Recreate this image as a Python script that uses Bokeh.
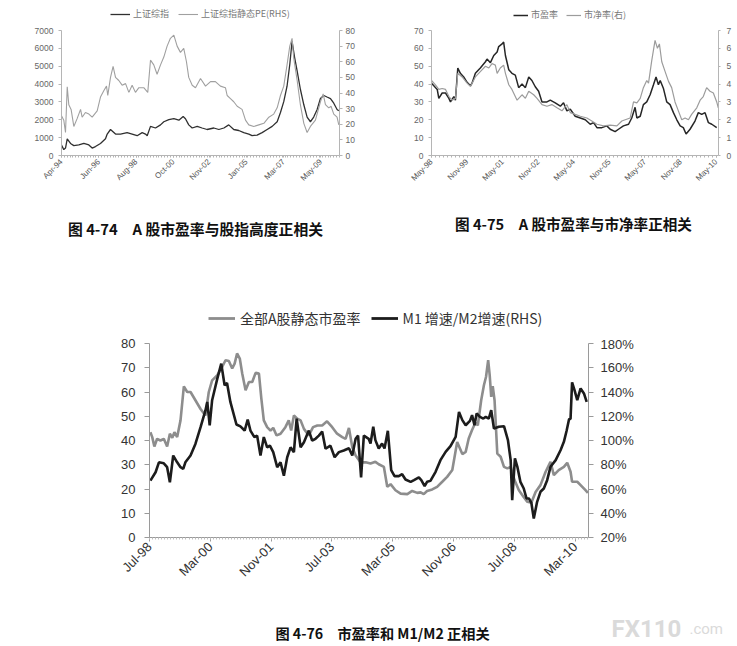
import math
import pandas as pd
from bokeh.plotting import figure
from bokeh.models import (Range1d, LinearAxis, FixedTicker, DatetimeTickFormatter,
                          Legend, LegendItem, Label, PrintfTickFormatter)
from bokeh.layouts import column, row
from bokeh.embed import file_html
from bokeh.resources import INLINE

# ---------------- data ----------------
# Fig 4-74: months after Apr-1994
c1_base = "1994-04-01"
c1_idx_m = [0, 1.6, 2.8, 4.0, 6.3, 8.6, 12.1, 15.6, 19.1, 21.4, 23.7, 27.2, 30.7, 31.9, 34.2, 37.7,
            41.2, 45.8, 49.3, 52.8, 56.3, 58.6, 59.8, 62.1, 65.6, 69.1, 71.4, 74.9, 78.4, 81.9, 84.9,
            86.5, 88.8, 91.2, 94.7, 98.1, 101.6, 106.3, 109.8, 113.3, 116.7, 120.2, 123.7, 127.2,
            130.7, 133.0, 136.5, 140.0, 143.5, 147.0, 150.5, 152.8, 155.1, 157.4, 159.3, 160.9,
            162.6, 164.4, 166.7, 169.1, 171.4, 173.7, 176.0, 178.4, 180.7, 183.0, 185.3, 187.7,
            190.0, 192.3, 193.5]
c1_index = [590, 330, 416, 936, 676, 555, 590, 676, 590, 416, 500, 676, 936, 1200, 1456, 1200,
            1200, 1282, 1200, 1109, 1282, 1200, 1109, 1630, 1540, 1716, 1890, 2010, 2060, 1975, 2180,
            2060, 1716, 1540, 1630, 1540, 1456, 1540, 1456, 1540, 1716, 1456, 1400, 1282,
            1200, 1109, 1144, 1282, 1456, 1630, 1890, 2409, 3015, 3880, 5095, 6395,
            5530, 4750, 3710, 2840, 2150, 1890, 2150, 2580, 3190, 3360, 3275, 3190,
            2930, 2580, 2500]
c1_pe_m = [0, 1.6, 2.8, 4.0, 5.1, 6.7, 8.6, 10.9, 13.3, 14.4, 16.7, 19.1, 21.4, 24.9, 27.2,
           29.5, 31.4, 32.3, 34.2, 36.0, 37.7, 40.0, 42.3, 44.7, 47.0, 49.3, 51.6, 54.0, 57.4, 60.2,
           62.1, 64.4, 66.7, 69.1, 71.4, 73.7, 76.0, 78.4, 80.7, 83.0, 85.3, 87.2, 88.8, 91.2, 93.5,
           97.0, 100.5, 104.0, 107.4, 110.9, 114.4, 115.6, 117.9, 120.2, 122.6, 126.0, 128.4, 130.7,
           134.2, 137.7, 141.2, 144.7, 148.1, 150.5, 152.8, 155.1, 157.4, 159.3, 160.9, 162.1,
           164.4, 166.7, 169.1, 171.4, 173.7, 177.2, 180.7, 182.6, 184.2, 186.5, 188.1, 190.0,
           192.3, 193.5]
c1_pe = [25.5, 22.6, 14.7, 44, 32.5, 29.5, 18.6, 23.6, 29.5, 24.5, 27.5, 26.5, 24.5, 28.5, 37.4,
         41.4, 44.4, 38.4, 50, 57, 50, 48, 45, 46, 40.4, 45, 40.4, 43.4, 43.4, 40.4,
         61, 58, 52, 58, 63, 70, 75, 77, 70, 66, 68.5, 60, 50, 45, 43.4,
         49.3, 44.4, 47.3, 47.3, 44.4, 43.4, 38.4, 36.4, 34.4, 31.5, 29.5, 22.6, 19.6,
         18.6, 19.6, 20.6, 24.5, 26.5, 30.5, 38.4, 44.4, 58, 70, 75, 62,
         48.3, 32.5, 20.6, 14.7, 18.6, 22.6, 34.4, 39.4, 32.5, 30.5, 31.5, 26.5,
         24.5, 19.6]
c1_ticks = ["1994-04-01", "1996-06-01", "1998-08-01", "2000-10-01", "2002-11-01",
            "2005-01-01", "2007-03-01", "2009-05-01"]
c1_left_ticks = [0, 1000, 2000, 3000, 4000, 5000, 6000, 7000]
c1_right_ticks = [0, 10, 20, 30, 40, 50, 60, 70, 80]
c1_names = ["上证综指", "上证综指静态PE(RHS)"]
c1_caption = "图 4-74　A 股市盈率与股指高度正相关"

# Fig 4-75: months after May-1998
c2_base = "1998-05-01"
c2_pe_m = [0, 2.9, 3.7, 5.4, 7.1, 8.8, 9.6, 11.3, 12.1, 13.3, 14.6, 16.3, 18.0, 19.7, 20.5,
           22.2, 24.7, 27.3, 28.1, 29.8, 31.5, 33.2, 34.0, 35.7, 36.5, 37.4, 39.1, 40.7, 42.4, 44.1,
           45.8, 47.5, 49.2, 50.8, 52.5, 54.2, 55.9, 58.4, 60.1, 62.6, 65.2, 66.8, 68.5, 70.2, 72.7,
           75.3, 77.8, 80.3, 82.0, 83.7, 86.2, 88.7, 90.4, 92.9, 94.6, 97.1, 99.7, 101.3, 103.0,
           103.9, 105.6, 107.2, 108.9, 110.6, 112.3, 113.6, 114.8, 115.7, 117.3, 119.0, 120.7,
           122.4, 124.1, 125.8, 127.4, 128.8, 130.8, 133.3, 135.0, 136.7, 138.4, 140.1, 141.8, 144.3]
c2_pe = [40.5, 37, 32, 35, 35, 32, 30, 33, 31, 49, 46, 44, 41, 39, 40.5,
         46, 49, 52.5, 54, 52, 56, 58, 61, 62.5, 63.5, 56, 48, 46, 45, 38,
         40, 38, 44, 42, 38.5, 36, 30, 30, 31, 29.5, 27.6, 29.5, 25, 26, 22,
         21, 20, 17.5, 18.4, 15.6, 15.6, 16.6, 14.7, 13.4, 14.7, 16.6, 17.5, 21, 27,
         21, 22, 28.5, 30, 34, 39.6, 44, 39.6, 42, 37.7, 30, 28.5,
         24, 20, 16.6, 15.6, 12, 14.7, 19.3, 24, 23, 24, 18.4, 17.5, 15.6]
c2_pb_m = [0, 2.0, 3.7, 5.4, 7.1, 8.8, 10.4, 12.1, 13.3, 15.5, 18.0, 19.7, 22.2, 24.7, 27.3,
           29.0, 30.6, 32.3, 33.2, 34.8, 36.5, 37.4, 39.1, 40.7, 43.3, 45.8, 47.5, 49.2, 51.7, 53.4,
           55.9, 58.4, 60.9, 63.5, 66.0, 68.5, 70.2, 72.7, 75.3, 78.6, 81.1, 83.7, 87.0, 90.4, 93.8,
           96.3, 98.0, 100.5, 102.2, 103.9, 105.6, 107.2, 108.9, 109.8, 111.4, 113.1, 114.3, 115.3,
           116.5, 118.2, 119.9, 121.5, 123.2, 124.9, 126.6, 128.3, 130.0, 131.6, 134.2, 135.9,
           137.5, 139.2, 140.9, 142.6, 144.3, 145.1]
c2_pb = [4.2, 3.96, 3.7, 3.75, 3.7, 3.3, 3.1, 3.2, 4.6, 4.4, 4.05, 3.87, 4.4, 4.7, 5.0,
         4.9, 5.15, 5.06, 4.6, 4.9, 5.06, 4.6, 3.96, 3.7, 3.1, 3.4, 3.2, 3.6, 3.4, 3.2,
         2.85, 2.76, 2.85, 2.67, 2.5, 2.85, 2.4, 2.3, 2.2, 2.1, 1.93, 1.75, 1.66, 1.7, 1.66,
         1.93, 2.0, 2.1, 3.0, 2.95, 3.2, 3.8, 4.2, 4.05, 5.3, 6.45, 6.0, 6.25,
         5.25, 4.7, 4.15, 3.8, 3.0, 2.5, 2.0, 2.1, 2.0, 2.3, 2.67, 3.1,
         3.3, 3.8, 3.6, 3.5, 3.0, 2.67]
c2_ticks = ["1998-05-01", "1999-11-01", "2001-05-01", "2002-11-01", "2004-05-01",
            "2005-11-01", "2007-05-01", "2008-11-01", "2010-05-01"]
c2_left_ticks = [0, 10, 20, 30, 40, 50, 60, 70]
c2_right_ticks = [0, 1, 2, 3, 4, 5, 6, 7]
c2_names = ["市盈率", "市净率(右)"]
c2_caption = "图 4-75　A 股市盈率与市净率正相关"

# Fig 4-76: months after Jul-1998
c3_base = "1998-07-01"
c3_pe_m = [0.3, 0.9, 1.6, 2.5, 3.6, 4.7, 5.8, 6.7, 7.5, 8.2, 9.1, 10.2, 11.3, 12.4, 13.5,
           15.1, 16.8, 18.4, 19.5, 20.6, 22.3, 23.9, 25.0, 26.1, 27.2, 28.0, 28.8, 29.7, 30.5, 31.6,
           32.7, 33.8, 34.9, 36.0, 36.8, 37.6, 38.7, 39.8, 40.7, 41.8, 43.1, 44.7, 45.8, 46.6, 47.5,
           48.6, 49.7, 50.8, 52.4, 53.8, 55.2, 56.8, 58.4, 60.1, 61.7, 63.4, 64.5, 65.6, 66.7, 67.8,
           69.4, 71.1, 72.7, 74.3, 75.4, 77.1, 78.2, 79.3, 80.9, 82.6, 84.8, 86.4, 88.1, 89.2, 90.2,
           91.3, 93.0, 94.6, 96.3, 97.9, 99.6, 101.2, 102.9, 104.0, 105.0, 106.1, 107.2, 108.0,
           109.1, 110.0, 110.7, 111.4, 111.9, 112.4, 112.9, 113.5, 114.4, 115.5, 116.6, 117.7,
           118.8, 120.1, 121.5, 123.0, 124.3, 125.6, 127.0, 128.6, 130.3, 131.9, 133.0, 134.6,
           136.3, 137.4, 138.5, 139.0, 140.7, 141.8, 143.4, 144.2]
c3_pe = [43.4, 41.4, 37.5, 40.7, 40, 40.7, 37.5, 42.8, 41.1, 43.4, 41.4, 48.3, 62.3, 60, 60,
         56.6, 53, 50.3, 60, 64.8, 66.9, 70.3, 73.1, 72.8, 69.7, 71.7, 75.9, 73.8, 67.6, 60.7,
         64.1, 64.1, 67.9, 67.6, 57.2, 48.3, 45.5, 44.1, 45.2, 42.1, 42.8, 45.5, 48.3, 44.1, 50.3,
         49, 48.3, 44.8, 42.1, 45.5, 46.2, 46.2, 47.9, 45.5, 42.8, 41.4, 40.7, 45.2, 37.2, 33.8,
         31, 31, 30.5, 31.2, 30.2, 29.1, 20.9, 22, 19.5, 18.1, 17.9, 19.2, 18.4, 18.6, 17.9,
         19.2, 19.8, 20.9, 23, 25, 27.8, 39.4, 34.4, 35.3, 40.8, 44.3, 47.3, 46.3,
         56.6, 62.8, 66.3, 73.1, 67, 58, 62.4, 56.6, 34.6, 33.3, 29.1, 28.5,
         29.1, 23.6, 19.5, 16.8, 14.7, 14.3, 18.8, 21.6, 27.1, 31.2, 25.7, 27.8,
         29.1, 30.8, 27.1, 23, 23, 21.6, 19.5, 18.4]
c3_m1m2_m = [0.3, 2.0, 3.1, 4.7, 5.8, 6.7, 7.8, 9.1, 10.2, 11.1, 11.8, 13.5, 15.1, 16.8, 18.4,
             19.0, 19.8, 20.6, 22.3, 23.6, 24.7, 25.5, 26.6, 28.6, 29.9, 31.3, 32.3, 33.2, 34.5, 35.4,
             36.5, 37.6, 38.7, 39.6, 40.7, 42.0, 43.1, 44.2, 45.3, 46.4, 47.5, 48.4, 49.7, 50.8, 52.4,
             53.5, 54.6, 55.7, 56.8, 57.9, 59.5, 60.9, 62.3, 63.9, 65.6, 66.7, 67.8, 68.6, 69.6, 70.5,
             72.1, 72.7, 73.6, 74.3, 75.4, 76.5, 77.3, 78.4, 79.5, 80.6, 82.0, 83.1, 84.2, 85.9, 87.0,
             88.6, 89.4, 90.5, 91.3, 92.4, 94.1, 95.7, 97.4, 99.0, 100.7, 101.8, 102.9, 104.0, 105.4,
             106.1, 106.9, 107.6, 108.7, 109.8, 110.6, 111.6, 112.4, 113.3, 114.9, 116.6, 117.9,
             118.8, 119.3, 120.2, 121.0, 122.0, 123.1, 124.0, 124.8, 125.6, 126.4, 127.5, 128.6,
             129.7, 130.8, 131.9, 133.6, 135.2, 136.3, 137.2, 138.0, 138.5, 139.0, 139.8, 140.7,
             141.8, 142.9, 143.8]
c3_m1m2 = [66.9, 73.8, 82, 81.2, 78, 65.5, 87.6, 82, 78, 76.6, 82, 87.6, 97.2, 111, 124.8,
           131.8, 112.4, 133.2, 151, 163.4, 145.6, 147.4, 131.8, 113.2, 111.6, 108.2, 117.2, 108.2,
           102.8, 104, 87.6, 102.8, 94.4, 95.8, 90.4, 78, 82, 71, 86.2, 94.4, 90.4, 118, 94.4, 98.6,
           108.2, 100, 101.4, 104, 107.4, 93.2, 95.8, 86.2, 90.4, 91.8, 93.6, 87.6, 101.4, 104, 69.6,
           104, 101.4, 97.5, 111.3, 100.3, 93.4, 97.5, 93.4, 108, 75.5, 70.6, 70.6, 72.2, 67.8, 65.9,
           67.3, 69.5, 67.3, 62.3, 65.9, 66.7, 74.2, 83.8, 90.6, 95.3, 103, 123.6, 116.8, 112.6,
           116.2, 120.9, 112.6, 122.3, 119.5, 118.1, 119.5, 118.1, 125, 109.9, 111.3, 111.8, 100.3,
           83.8, 50.8, 85.2, 78.3, 65.9, 60.4, 52.2, 52.2, 48.6, 35.7, 49.4, 57.7, 60.4, 67.3, 78.3,
           83.8, 92, 98.9, 108, 117.5, 118, 148, 141.5, 133.3, 142.9, 138.8, 131.9]
c3_ticks = ["1998-07-01", "2000-03-01", "2001-11-01", "2003-07-01", "2005-03-01",
            "2006-11-01", "2008-07-01", "2010-03-01"]
c3_left_ticks = [0, 10, 20, 30, 40, 50, 60, 70, 80]
c3_right_ticks = [20, 40, 60, 80, 100, 120, 140, 160, 180]
c3_names = ["全部A股静态市盈率", "M1 增速/M2增速(RHS)"]
c3_caption = "图 4-76　市盈率和 M1/M2 正相关"
watermark = ["FX110", ".com"]

# ---------------- helpers ----------------
MONTH_DAYS = 30.4375
SANS = "Liberation Sans"
CJK = "Noto Sans CJK SC"
NAN = float("nan")


def to_ms(base, months):
    b = pd.Timestamp(base)
    return [(b + pd.Timedelta(days=m * MONTH_DAYS)).value / 1e6 for m in months]


def dates_ms(dates):
    return [pd.Timestamp(d).value / 1e6 for d in dates]


def minor_ms(base, end_months, step):
    b = pd.Timestamp(base)
    out, m = [], 0.0
    while m <= end_months:
        out.append((b + pd.Timedelta(days=m * MONTH_DAYS)).value / 1e6)
        m += step
    return out


FMT = "%b-%y"
def date_fmt():
    keys = ["microseconds", "milliseconds", "seconds", "minsec", "minutes",
            "hourmin", "hours", "days", "months", "years"]
    return DatetimeTickFormatter(**{k: FMT for k in keys})


def make_fig(W, H, frame, x0, x1, y0, y1):
    fl, ft, fw, fh = frame
    p = figure(width=W, height=H, x_axis_type="datetime",
               x_range=Range1d(x0, x1), y_range=Range1d(y0, y1),
               output_backend="svg", toolbar_location=None,
               min_border_left=fl, min_border_top=ft,
               min_border_right=W - fl - fw, min_border_bottom=H - ft - fh)
    p.grid.visible = False
    p.outline_line_color = None
    p.background_fill_color = "white"
    p.border_fill_color = "white"
    return p


def canvas(W, H):
    """A blank drawing area whose data units are its pixels (y grows downward)."""
    c = figure(width=W, height=H, x_range=Range1d(0, W), y_range=Range1d(H, 0),
               output_backend="svg", toolbar_location=None,
               x_axis_location=None, y_axis_location=None,
               min_border_left=0, min_border_right=0, min_border_top=0, min_border_bottom=0)
    c.grid.visible = False
    c.outline_line_color = None
    c.background_fill_color = "white"
    c.border_fill_color = "white"
    return c


def style_axis(ax, size, color, line_color, tick_out, standoff):
    ax.axis_line_color = line_color
    ax.major_tick_line_color = line_color
    ax.minor_tick_line_color = line_color
    ax.major_tick_out = tick_out
    ax.major_tick_in = 0
    ax.minor_tick_out = 0
    ax.minor_tick_in = 0
    ax.major_label_text_font = SANS
    ax.major_label_text_font_size = size
    ax.major_label_text_color = color
    ax.major_label_standoff = standoff


def caption(c, x, y, text, size="14px"):
    c.add_layout(Label(x=x, y=y, text=text, text_font=CJK, text_font_size=size,
                       text_font_style="bold", text_color="#111111",
                       text_align="center", text_baseline="middle"))


def legend(c, names, styles, loc, gw, gh, standoff, spacing, size, color):
    items = []
    for name, (lc, lw) in zip(names, styles):
        # key-only renderer: its single point is NaN, so it draws nothing itself
        r = c.line(x=[NAN], y=[NAN], line_color=lc, line_width=lw)
        items.append(LegendItem(label=name, renderers=[r]))
    c.add_layout(Legend(items=items, location=loc, orientation="horizontal",
                        glyph_width=gw, glyph_height=gh, label_height=gh,
                        label_standoff=standoff, spacing=spacing, padding=0, margin=0,
                        border_line_color=None, background_fill_alpha=0,
                        label_text_font=CJK, label_text_font_size=size,
                        label_text_color=color))


# colours / widths
C1_DARK, C1_LIGHT = "#303030", "#a0a0a0"
C2_DARK, C2_LIGHT = "#262626", "#9c9c9c"
C3_GRAY, C3_BLACK = "#8d8d8d", "#1c1c1c"

# ---------------- top legends ----------------
top_leg = canvas(737, 22)
legend(top_leg, c1_names, [(C1_DARK, 1.3), (C1_LIGHT, 1.1)], (110, 2), 20, 12, 3, 9,
       "9px", "#777777")
legend(top_leg, c2_names, [(C2_DARK, 1.5), (C2_LIGHT, 1.2)], (513, 1), 15, 12, 3, 8,
       "9px", "#777777")

# ---------------- Figure 4-74 ----------------
c1_end = 194.0
f1 = make_fig(370, 188, (61, 8, 278, 135),
              to_ms(c1_base, [0])[0], to_ms(c1_base, [c1_end])[0], 0, 7000)
f1.extra_y_ranges = {"pe": Range1d(0, 80)}
f1.line(to_ms(c1_base, c1_idx_m), c1_index, line_color=C1_DARK, line_width=1.3)
f1.line(to_ms(c1_base, c1_pe_m), c1_pe, y_range_name="pe", line_color=C1_LIGHT, line_width=1.1)
ax = f1.yaxis[0]
ax.ticker = FixedTicker(ticks=c1_left_ticks)
style_axis(ax, "8.5px", "#666666", "#b5b5b5", 3, 5)
rax = LinearAxis(y_range_name="pe", ticker=FixedTicker(ticks=c1_right_ticks))
style_axis(rax, "8.5px", "#666666", "#b5b5b5", 3, 3)
f1.add_layout(rax, "right")
xa = f1.xaxis[0]
xa.ticker = FixedTicker(ticks=dates_ms(c1_ticks), minor_ticks=minor_ms(c1_base, c1_end, 2))
xa.formatter = date_fmt()
style_axis(xa, "8px", "#555555", "#b5b5b5", 2, 3)
xa.minor_tick_out = 2
xa.major_label_orientation = math.pi / 4

# ---------------- Figure 4-75 ----------------
c2_end = 145.2
f2 = make_fig(367, 188, (61, 6, 287, 127),
              to_ms(c2_base, [0])[0], to_ms(c2_base, [c2_end])[0], 0, 70)
f2.extra_y_ranges = {"pb": Range1d(0, 7)}
f2.line(to_ms(c2_base, c2_pe_m), c2_pe, line_color=C2_DARK, line_width=1.5)
f2.line(to_ms(c2_base, c2_pb_m), c2_pb, y_range_name="pb", line_color=C2_LIGHT, line_width=1.2)
ax = f2.yaxis[0]
ax.ticker = FixedTicker(ticks=c2_left_ticks)
style_axis(ax, "8.5px", "#666666", "#b5b5b5", 3, 5)
rax = LinearAxis(y_range_name="pb", ticker=FixedTicker(ticks=c2_right_ticks))
style_axis(rax, "8.5px", "#666666", "#b5b5b5", 2, 6)
f2.add_layout(rax, "right")
xa = f2.xaxis[0]
xa.ticker = FixedTicker(ticks=dates_ms(c2_ticks), minor_ticks=minor_ms(c2_base, c2_end, 2))
xa.formatter = date_fmt()
style_axis(xa, "8px", "#555555", "#b5b5b5", 2, 3)
xa.minor_tick_out = 2
xa.major_label_orientation = math.pi / 4

# ---------------- top captions ----------------
top_cap = canvas(737, 40)
caption(top_cap, 195, 18, c1_caption, size="14.8px")
caption(top_cap, 573, 13, c2_caption, size="14.6px")

# ---------------- Figure 4-76 legend ----------------
mid_leg = canvas(737, 86)
legend(mid_leg, c3_names, [(C3_GRAY, 2.8), (C3_BLACK, 2.8)], (208, 8), 27, 16, 5, 10,
       "14px", "#333333")

# ---------------- Figure 4-76 ----------------
c3_end = 144.4
f3 = make_fig(737, 264, (149, 7, 439, 194),
              to_ms(c3_base, [0])[0], to_ms(c3_base, [c3_end])[0], 0, 80)
f3.extra_y_ranges = {"m": Range1d(20, 180)}
f3.line(to_ms(c3_base, c3_pe_m), c3_pe, line_color=C3_GRAY, line_width=2.6)
f3.line(to_ms(c3_base, c3_m1m2_m), c3_m1m2, y_range_name="m", line_color=C3_BLACK, line_width=2.6)
ax = f3.yaxis[0]
ax.ticker = FixedTicker(ticks=c3_left_ticks)
style_axis(ax, "13px", "#333333", "#9a9a9a", 5, 9)
rax = LinearAxis(y_range_name="m", ticker=FixedTicker(ticks=c3_right_ticks),
                 formatter=PrintfTickFormatter(format="%d%%"))
style_axis(rax, "13px", "#333333", "#9a9a9a", 5, 7)
f3.add_layout(rax, "right")
xa = f3.xaxis[0]
xa.ticker = FixedTicker(ticks=dates_ms(c3_ticks), minor_ticks=minor_ms(c3_base, c3_end, 1))
xa.formatter = date_fmt()
style_axis(xa, "13px", "#333333", "#9a9a9a", 4, 3)
xa.minor_tick_out = 2
xa.minor_tick_line_color = "#c0c0c0"
xa.major_label_orientation = math.pi / 4

# ---------------- bottom caption + watermark ----------------
bot_cap = canvas(737, 45)
caption(bot_cap, 382, 32, c3_caption, size="14.2px")
bot_cap.add_layout(Label(x=611, y=28, text=watermark[0], text_font="Roboto",
                         text_font_size="24px", text_font_style="bold",
                         text_color="#dadada", text_align="left",
                         text_baseline="alphabetic"))
bot_cap.add_layout(Label(x=689, y=28, text=watermark[1], text_font="Roboto",
                         text_font_size="15px", text_color="#dadada",
                         text_align="left", text_baseline="alphabetic"))

# each block sits in its own row so that frames are not aligned across blocks
layout = column(row(top_leg), row(f1, f2), row(top_cap), row(mid_leg), row(f3), row(bot_cap))
open("out.html", "w").write(file_html(layout, INLINE))
